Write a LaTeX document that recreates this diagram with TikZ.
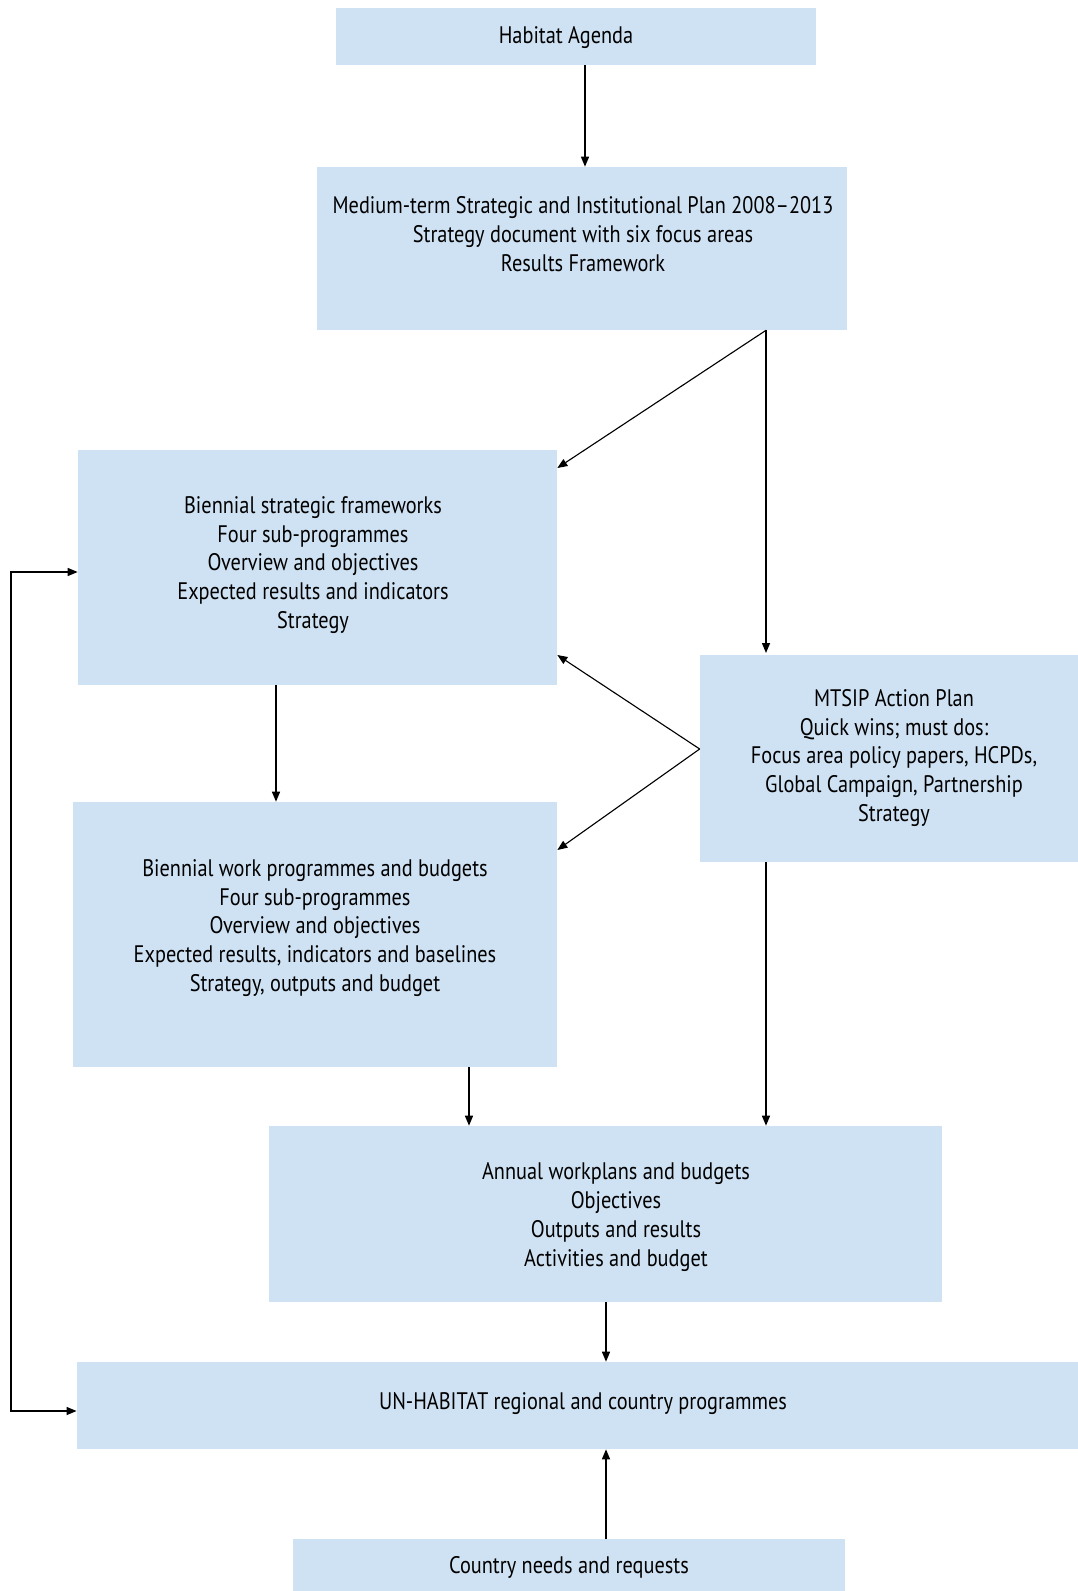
\documentclass[tikz,border=0pt]{standalone}
\usepackage{fontspec}
\setmainfont[FakeStretch=0.85]{PT Sans}
\usepackage{tikz}
\usetikzlibrary{arrows.meta}
\definecolor{panelblue}{RGB}{207,226,243}

\begin{document}
\begin{tikzpicture}[x=0.025cm, y=-0.025cm, every node/.style={font=\fontsize{17}{20.5}\selectfont, align=center},
	panel/.style={fill=panelblue, draw=none, inner sep=0pt}, >={Triangle[length=2.5mm, width=2mm]}]
	\useasboundingbox (0,0) rectangle (1078,1591);
	\node[panel, minimum width=12cm, minimum height=1.425cm] (hab) at (576,36.5) {};
	\node[panel, minimum width=13.25cm, minimum height=4.075cm] (mtsip) at (582,248.5) {};
	\node[panel, minimum width=11.975cm, minimum height=5.875cm] (bsf) at (317.5,567.5) {};
	\node[panel, minimum width=12.1cm, minimum height=6.625cm] (bwp) at (315,934.5) {};
	\node[panel, minimum width=9.45cm, minimum height=5.175cm] (act) at (889,758.5) {};
	\node[panel, minimum width=16.825cm, minimum height=4.4cm] (ann) at (605.5,1214) {};
	\node[panel, minimum width=25.025cm, minimum height=2.175cm] (unh) at (577.5,1405.5) {};
	\node[panel, minimum width=13.8cm, minimum height=1.3cm] (cty) at (569,1565) {};
	\node (hab-t) at (566,38) {Habitat Agenda};
	\node (mtsip-t) at (583,234) {Medium-term Strategic and Institutional Plan 2008--2013\\ Strategy document with six focus areas\\ Results Framework};
	\node (bsf-t) at (313,565) {Biennial strategic frameworks\\ Four sub-programmes\\ Overview and objectives\\ Expected results and indicators\\ Strategy};
	\node (bwp-t) at (315,928) {Biennial work programmes and budgets\\ Four sub-programmes\\ Overview and objectives\\ Expected results, indicators and baselines\\ Strategy, outputs and budget};
	\node (act-t) at (894,758) {MTSIP Action Plan\\ Quick wins; must dos:\\ Focus area policy papers, HCPDs,\\ Global Campaign, Partnership\\ Strategy};
	\node (ann-t) at (616,1217) {Annual workplans and budgets\\ Objectives\\ Outputs and results\\ Activities and budget};
	\node (unh-t) at (583,1404) {UN-HABITAT regional and country programmes};
	\node (cty-t) at (569,1567) {Country needs and requests};
	\coordinate (fork) at (mtsip.south -| 766,0);
	\coordinate (split) at (act.west |- 0,749);
	\draw[->, line width=1pt] (hab.south -| 585,0) -- (mtsip.north -| 585,0);
	\draw[->, line width=0.8pt] (fork) -- (bsf.east |- 0,468);
	\draw[->, line width=1pt] (fork) -- (766,653);
	\draw[->, line width=0.8pt] (split) -- (bsf.east |- 0,655);
	\draw[->, line width=0.8pt] (split) -- (bwp.east |- 0,850);
	\draw[->, line width=1pt] (bsf.south -| 276,0) -- (bwp.north -| 276,0);
	\draw[->, line width=1pt] (bwp.south -| 469,0) -- (ann.north -| 469,0);
	\draw[->, line width=1pt] (act.south -| 766,0) -- (ann.north -| 766,0);
	\draw[->, line width=1pt] (ann.south -| 606,0) -- (unh.north -| 606,0);
	\draw[->, line width=1pt] (cty.north -| 606,0) -- (unh.south -| 606,0);
	\draw[<->, line width=0.9pt] (bsf.west |- 0,572) -- (11,572) -- (11,1411) -- (unh.west |- 0,1411);
\end{tikzpicture}
\end{document}
